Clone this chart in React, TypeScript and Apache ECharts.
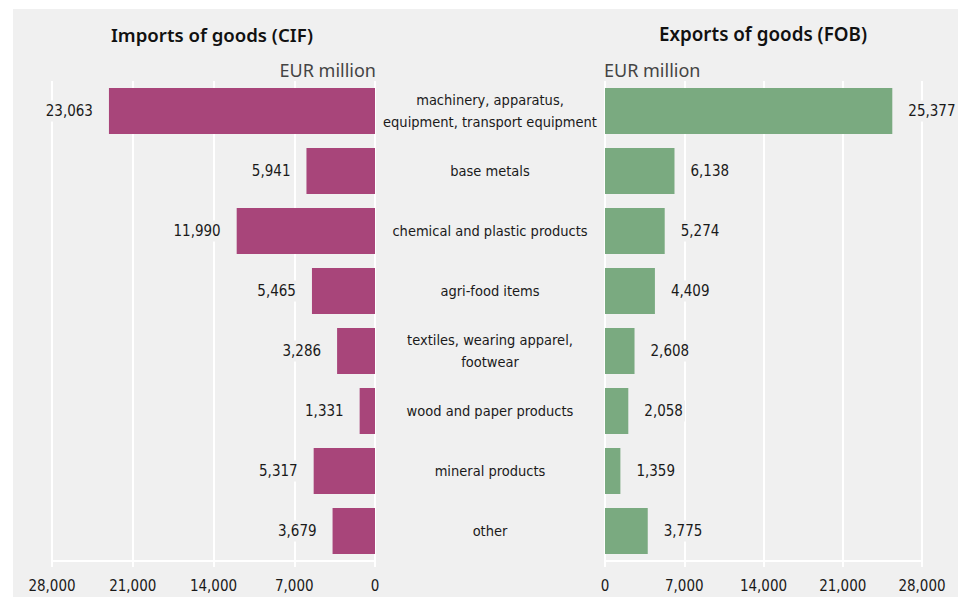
import React, { useEffect, useRef } from "react";
import * as echarts from "echarts";

const categories = [
  "machinery, apparatus,\nequipment, transport equipment",
  "base metals",
  "chemical and plastic products",
  "agri-food items",
  "textiles, wearing apparel,\nfootwear",
  "wood and paper products",
  "mineral products",
  "other",
];
const imports = [23063, 5941, 11990, 5465, 3286, 1331, 5317, 3679];
const exports = [25377, 6138, 5274, 4409, 2608, 2058, 1359, 3775];
const axisMax = 28000;
const axisStep = 7000;
const importsTitle = "Imports of goods (CIF)";
const exportsTitle = "Exports of goods (FOB)";
const unitLabel = "EUR million";

const NARROW = "'DejaVu Sans Condensed', 'Liberation Sans Narrow', sans-serif";
const fmt = (v: number) => v.toLocaleString("en-US");

export default function App() {
  const ref = useRef<HTMLDivElement>(null);
  useEffect(() => {
    if (!ref.current) return;
    const chart = echarts.init(ref.current, null, { renderer: "svg" });
    const valueAxisCommon = {
      type: "value" as const,
      min: 0,
      max: axisMax,
      interval: axisStep,
      axisLine: { show: true, lineStyle: { color: "#ffffff", width: 2 } },
      axisTick: { show: true, length: 6, lineStyle: { color: "#ffffff", width: 2 } },
      splitLine: { show: true, lineStyle: { color: "#ffffff", width: 2 } },
      axisLabel: {
        color: "#1a1a1a",
        fontFamily: NARROW,
        fontSize: 15,
        margin: 17,
        formatter: (v: number) => fmt(v),
      },
    };
    const labelCommon = {
      show: true,
      color: "#1a1a1a",
      fontFamily: NARROW,
      fontSize: 15,
      distance: 14,
      backgroundColor: "#f0f0f0",
      padding: [3, 2, 3, 2],
      formatter: (p: any) => fmt(p.value),
    };
    chart.setOption({
      animation: false,
      backgroundColor: "#ffffff",
      graphic: [
        {
          type: "rect",
          z: -10,
          silent: true,
          shape: { x: 13, y: 9, width: 945, height: 588 },
          style: { fill: "#f0f0f0" },
        },
        {
          type: "text",
          x: 212,
          y: 34,
          style: {
            text: importsTitle,
            fontFamily: "'Noto Sans', sans-serif",
            fontWeight: 600,
            fontSize: 18.6,
            fill: "#111",
            align: "center",
            verticalAlign: "middle",
          },
        },
        {
          type: "text",
          x: 763,
          y: 34,
          style: {
            text: exportsTitle,
            fontFamily: "'Noto Sans', sans-serif",
            fontWeight: 600,
            fontSize: 18.8,
            fill: "#111",
            align: "center",
            verticalAlign: "middle",
          },
        },
        {
          type: "text",
          x: 376,
          y: 70,
          style: {
            text: unitLabel,
            fontFamily: "'Noto Sans', sans-serif",
            fontSize: 18,
            fill: "#444",
            align: "right",
            verticalAlign: "middle",
          },
        },
        {
          type: "text",
          x: 604,
          y: 70,
          style: {
            text: unitLabel,
            fontFamily: "'Noto Sans', sans-serif",
            fontSize: 18,
            fill: "#444",
            align: "left",
            verticalAlign: "middle",
          },
        },
      ],
      grid: [
        { left: 52, top: 81, width: 323, height: 480 },
        { left: 605, top: 81, width: 317, height: 480 },
      ],
      xAxis: [
        { ...valueAxisCommon, gridIndex: 0, inverse: true },
        { ...valueAxisCommon, gridIndex: 1 },
      ],
      yAxis: [
        {
          type: "category",
          gridIndex: 0,
          data: categories,
          inverse: true,
          axisLine: { show: false },
          axisTick: { show: false },
          axisLabel: { show: false },
          splitLine: { show: false },
        },
        {
          type: "category",
          gridIndex: 1,
          data: categories,
          inverse: true,
          axisLine: { show: false },
          axisTick: { show: false },
          splitLine: { show: false },
          axisLabel: {
            show: true,
            align: "center",
            margin: 115,
            color: "#1a1a1a",
            fontFamily: NARROW,
            fontSize: 14.5,
            lineHeight: 22,
          },
        },
      ],
      series: [
        {
          type: "bar",
          xAxisIndex: 0,
          yAxisIndex: 0,
          data: imports,
          barWidth: 46,
          itemStyle: { color: "#a8457a" },
          label: { ...labelCommon, position: "left" },
          z: 3,
        },
        {
          type: "bar",
          xAxisIndex: 1,
          yAxisIndex: 1,
          data: exports,
          barWidth: 46,
          itemStyle: { color: "#7aaa80" },
          label: { ...labelCommon, position: "right" },
          z: 3,
        },
      ],
    });
    return () => chart.dispose();
  }, []);
  return (
    <div
      ref={ref}
      style={{ position: "fixed", left: 0, top: 0, width: 958, height: 597 }}
    />
  );
}
